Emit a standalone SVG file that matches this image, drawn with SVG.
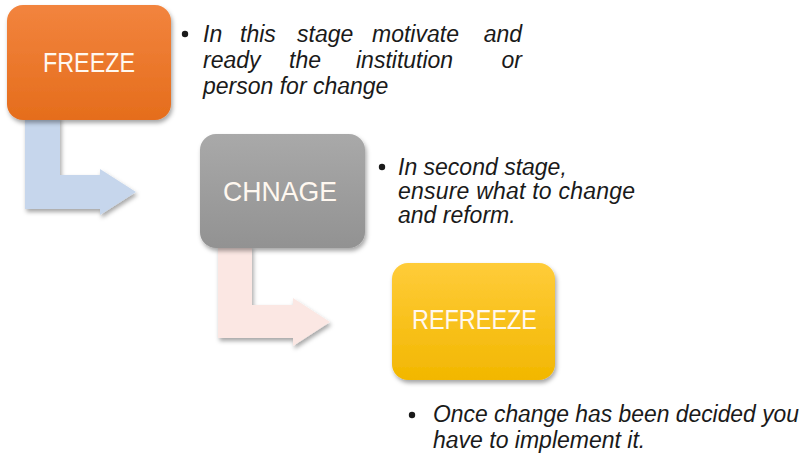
<svg xmlns="http://www.w3.org/2000/svg" width="804" height="454" viewBox="0 0 804 454">
  <defs>
    <linearGradient id="gOrange" x1="0" y1="0" x2="0" y2="1">
      <stop offset="0" stop-color="#F2843E"/>
      <stop offset="1" stop-color="#E56D1C"/>
    </linearGradient>
    <linearGradient id="gGray" x1="0" y1="0" x2="0" y2="1">
      <stop offset="0" stop-color="#A9A9A9"/>
      <stop offset="1" stop-color="#929292"/>
    </linearGradient>
    <linearGradient id="gYellow" x1="0" y1="0" x2="0" y2="1">
      <stop offset="0" stop-color="#FFCC3A"/>
      <stop offset="1" stop-color="#F2B700"/>
    </linearGradient>
    <filter id="shadow" x="-10%" y="-10%" width="125%" height="130%">
      <feDropShadow dx="1.5" dy="3" stdDeviation="2" flood-color="#000" flood-opacity="0.35"/>
    </filter>
  </defs>
  <style>
    .box { filter: url(#shadow); }
    .label { font-family: "Liberation Sans", Arial, sans-serif; font-size: 28px; fill: #FFF8F0; }
    .note { font-family: "Liberation Sans", Arial, sans-serif; font-style: italic; font-size: 23px; fill: #1A1A1A; }
    .end { text-anchor: end; }
    .dot { fill: #1A1A1A; }
  </style>
  <rect width="804" height="454" fill="#FFFFFF"/>

  <!-- bent arrows between stages -->
  <g id="connectors">
    <path class="box" d="M25,116 H60 V175 H100 V169 L136,192 L100,215 V209 H25 Z" fill="#C6D6EC"/>
    <path class="box" d="M218,246 H252 V305 H293 V298 L330,322 L293,346 V338 H218 Z" fill="#FBE7E3"/>
  </g>

  <g id="freeze">
    <rect class="box" x="7" y="5" width="164" height="115" rx="16" fill="url(#gOrange)"/>
    <text class="label" x="43" y="72" textLength="92" lengthAdjust="spacingAndGlyphs">FREEZE</text>
  </g>

  <g id="change">
    <rect class="box" x="200" y="134" width="165" height="114" rx="16" fill="url(#gGray)"/>
    <text class="label" x="223" y="201" textLength="114" lengthAdjust="spacingAndGlyphs">CHNAGE</text>
  </g>

  <g id="refreeze">
    <rect class="box" x="392" y="263" width="163" height="117" rx="16" fill="url(#gYellow)"/>
    <text class="label" x="412" y="329" textLength="125" lengthAdjust="spacingAndGlyphs">REFREEZE</text>
  </g>

  <!-- stage notes (first two lines justified word by word) -->
  <g id="note-freeze">
    <circle class="dot" cx="185" cy="34" r="3.2"/>
    <text class="note" x="203" y="42">In</text>
    <text class="note" x="240" y="42">this</text>
    <text class="note" x="297" y="42">stage</text>
    <text class="note" x="372" y="42">motivate</text>
    <text class="note end" x="522" y="42">and</text>
    <text class="note" x="203" y="68">ready</text>
    <text class="note" x="289" y="68">the</text>
    <text class="note" x="356" y="68">institution</text>
    <text class="note end" x="522" y="68">or</text>
    <text class="note" x="203" y="94">person for change</text>
  </g>

  <g id="note-change">
    <circle class="dot" cx="382" cy="167" r="3.2"/>
    <text class="note" x="398" y="175">In second stage,</text>
    <text class="note" x="398" y="199" textLength="237">ensure what to change</text>
    <text class="note" x="398" y="223">and reform.</text>
  </g>

  <g id="note-refreeze">
    <circle class="dot" cx="412" cy="415" r="3.2"/>
    <text class="note" x="433" y="422" textLength="366" lengthAdjust="spacingAndGlyphs">Once change has been decided you</text>
    <text class="note" x="433" y="448">have to implement it.</text>
  </g>
</svg>
